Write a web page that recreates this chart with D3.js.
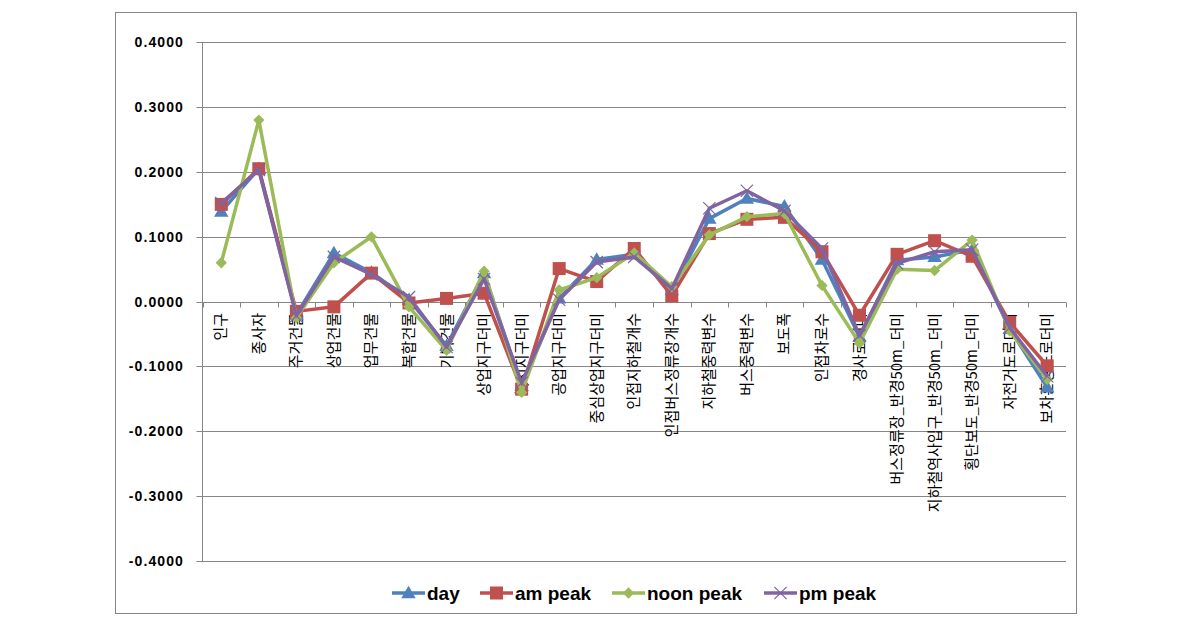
<!DOCTYPE html>
<html>
<head>
<meta charset="utf-8">
<script src="https://cdn.jsdelivr.net/npm/d3@7"></script>
<style>
  body { margin: 0; background: #fff; }
  svg { display: block; }
</style>
</head>
<body>
<div id="chart"></div>
<script>
// categories along the x axis
var categories = ["인구", "종사자", "주거건물", "상업건물", "업무건물", "복합건물", "기타건물",
  "상업지구더미", "녹지지구더미", "공업지구더미", "중심상업지구더미", "인접지하철개수",
  "인접버스정류장개수", "지하철중력변수", "버스중력변수", "보도폭", "인접차로수", "경사로더미",
  "버스정류장_반경50m_더미", "지하철역사입구_반경50m_더미", "횡단보도_반경50m_더미",
  "자전거도로더미", "보차혼용도로더미"];

// series values
var dayValues  = [0.139, 0.205, -0.020, 0.075, 0.045, 0.003, -0.068, 0.044, -0.130, 0.005, 0.065, 0.073,
  0.018, 0.128, 0.159, 0.147, 0.065, -0.054, 0.064, 0.069, 0.080, -0.042, -0.132];
var amValues   = [0.150, 0.205, -0.015, -0.008, 0.044, -0.002, 0.005, 0.013, -0.135, 0.051, 0.031, 0.082,
  0.009, 0.105, 0.127, 0.130, 0.077, -0.021, 0.073, 0.094, 0.070, -0.032, -0.099];
var noonValues = [0.060, 0.280, -0.025, 0.060, 0.100, -0.008, -0.075, 0.047, -0.140, 0.018, 0.037, 0.075,
  0.023, 0.103, 0.131, 0.136, 0.025, -0.064, 0.050, 0.048, 0.095, -0.045, -0.120];
var pmValues   = [0.152, 0.203, -0.022, 0.069, 0.042, 0.007, -0.070, 0.035, -0.125, 0.003, 0.061, 0.069,
  0.020, 0.144, 0.171, 0.140, 0.082, -0.052, 0.059, 0.077, 0.080, -0.040, -0.115];

var yTicks = [0.4, 0.3, 0.2, 0.1, 0, -0.1, -0.2, -0.3, -0.4];

var series = [
  { name: "day",       values: dayValues,  color: "#4F81BD", marker: "triangle" },
  { name: "am peak",   values: amValues,   color: "#C0504D", marker: "square" },
  { name: "noon peak", values: noonValues, color: "#9BBB59", marker: "diamond" },
  { name: "pm peak",   values: pmValues,   color: "#8064A2", marker: "x" }
];

var W = 1190, H = 634;
var svg = d3.select("#chart").append("svg").attr("width", W).attr("height", H);

// outer chart frame
svg.append("rect")
  .attr("x", 115.5).attr("y", 12.5)
  .attr("width", 961).attr("height", 601)
  .style("fill", "#fff").style("stroke", "#868686");

var plotLeft = 202.5, plotRight = 1066, plotTop = 42.3, plotBottom = 561;

var x = d3.scaleBand().domain(categories).range([plotLeft, plotRight]);
var y = d3.scaleLinear().domain([-0.4, 0.4]).range([plotBottom, plotTop]);

// horizontal grid
svg.append("g").selectAll("line").data(yTicks).enter().append("line")
  .attr("x1", plotLeft - 6).attr("x2", plotRight)
  .attr("y1", function(d) { return Math.round(y(d)) + 0.5; })
  .attr("y2", function(d) { return Math.round(y(d)) + 0.5; })
  .style("stroke", "#868686").style("stroke-width", 1);

// y axis line + labels
svg.append("line").attr("x1", plotLeft).attr("x2", plotLeft)
  .attr("y1", Math.round(plotTop) + 0.5).attr("y2", plotBottom + 0.5)
  .style("stroke", "#868686");

var fmt = d3.formatLocale({ decimal: ".", thousands: ",", grouping: [3], currency: ["", ""], minus: "-" }).format(".4f");

svg.append("g").selectAll("text").data(yTicks).enter().append("text")
  .attr("x", 184)
  .attr("y", function(d) { return y(d) + 5; })
  .attr("text-anchor", "end")
  .style("font-family", "'Liberation Sans', Arial, sans-serif")
  .style("font-weight", "bold")
  .style("font-size", "14px")
  .style("letter-spacing", "1.1px")
  .text(function(d) { return fmt(d); });

// x axis at zero with ticks at category boundaries
var y0 = Math.round(y(0)) + 0.5;
var bounds = categories.map(function(c) { return x(c); }).concat([plotRight]);
svg.append("g").selectAll("line").data(bounds).enter().append("line")
  .attr("x1", function(d) { return Math.round(d) + 0.5; })
  .attr("x2", function(d) { return Math.round(d) + 0.5; })
  .attr("y1", y0).attr("y2", y0 + 5)
  .style("stroke", "#868686");

// category labels, rotated
svg.append("g").selectAll("text").data(categories).enter().append("text")
  .attr("transform", function(d) {
    return "translate(" + (x(d) + x.bandwidth() / 2 + 5) + "," + 313 + ") rotate(-90)";
  })
  .attr("text-anchor", "end")
  .style("font-family", "'Noto Sans CJK KR', sans-serif")
  .style("font-size", "15px")
  .style("fill", "#000")
  .text(function(d) { return d; });

function cx(i) { return x(categories[i]) + x.bandwidth() / 2; }

var line = d3.line()
  .x(function(d, i) { return cx(i); })
  .y(function(d) { return y(d); });

function drawMarker(g, type, color, px, py) {
  if (type === "triangle") {
    g.append("path").attr("d", d3.symbol().type(d3.symbolTriangle).size(90)())
      .attr("transform", "translate(" + px + "," + (py + 1) + ")").style("fill", color);
  } else if (type === "square") {
    g.append("rect").attr("x", px - 6.5).attr("y", py - 6.5).attr("width", 13).attr("height", 13)
      .style("fill", color);
  } else if (type === "diamond") {
    g.append("path").attr("d", d3.symbol().type(d3.symbolSquare).size(64)())
      .attr("transform", "translate(" + px + "," + py + ") rotate(45)").style("fill", color);
  } else {
    g.append("path").attr("d", d3.symbol().type(d3.symbolX).size(100)())
      .attr("transform", "translate(" + px + "," + py + ")")
      .style("fill", "none").style("stroke", color).style("stroke-width", 1.2);
  }
}

series.forEach(function(s) {
  var g = svg.append("g");
  g.append("path").datum(s.values).attr("d", line)
    .style("fill", "none").style("stroke", s.color).style("stroke-width", 3.5)
    .style("stroke-linejoin", "round");
  s.values.forEach(function(v, i) { drawMarker(g, s.marker, s.color, cx(i), y(v)); });
});

// legend
var legendX = [392, 480, 612, 764];
var lg = svg.append("g");
series.forEach(function(s, i) {
  var lx = legendX[i], ly = 593;
  lg.append("line").attr("x1", lx).attr("x2", lx + 33).attr("y1", ly).attr("y2", ly)
    .style("stroke", s.color).style("stroke-width", 3.5);
  drawMarker(lg, s.marker, s.color, lx + 16.5, ly);
  lg.append("text").attr("x", lx + 35).attr("y", ly + 6.5)
    .style("font-family", "'Liberation Sans', Arial, sans-serif")
    .style("font-weight", "bold").style("font-size", "19px")
    .text(s.name);
});
</script>
</body>
</html>
